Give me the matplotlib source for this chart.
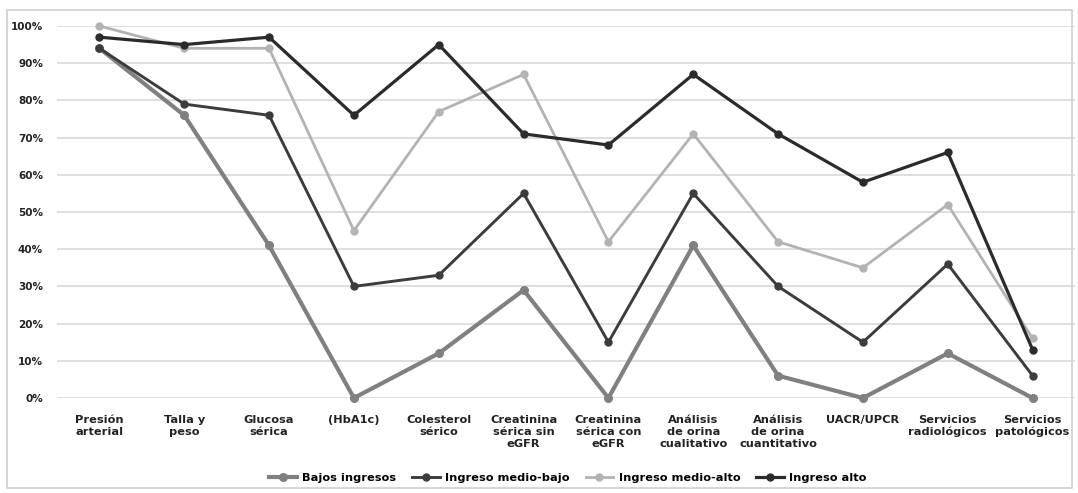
import numpy as np
import matplotlib.pyplot as plt
from matplotlib.patches import Rectangle

categories = ["Presión\narterial", "Talla y\npeso", "Glucosa\nsérica", "(HbA1c)",
              "Colesterol\nsérico", "Creatinina\nsérica sin\neGFR", "Creatinina\nsérica con\neGFR",
              "Análisis\nde orina\ncualitativo", "Análisis\nde orina\ncuantitativo", "UACR/UPCR",
              "Servicios\nradiológicos", "Servicios\npatológicos"]

bajos = [94, 76, 41, 0, 12, 29, 0, 41, 6, 0, 12, 0]
medio_bajo = [94, 79, 76, 30, 33, 55, 15, 55, 30, 15, 36, 6]
medio_alto = [100, 94, 94, 45, 77, 87, 42, 71, 42, 35, 52, 16]
alto = [97, 95, 97, 76, 95, 71, 68, 87, 71, 58, 66, 13]

labels = ["Bajos ingresos", "Ingreso medio-bajo", "Ingreso medio-alto", "Ingreso alto"]

fig = plt.figure(figsize=(10.78, 4.93), dpi=100)
ax = fig.add_axes([57/1078, 95/493, 1018/1078, 372/493])

x = np.arange(len(categories))
# light series first, dark ones on top
ax.plot(x, medio_alto, color='#b3b3b3', lw=2.0, marker='o', ms=5, label=labels[2], clip_on=False, zorder=3)
ax.plot(x, bajos, color='#808080', lw=3.0, marker='o', ms=5.5, label=labels[0], clip_on=False, zorder=4)
ax.plot(x, medio_bajo, color='#3c3c3c', lw=2.1, marker='o', ms=5, label=labels[1], clip_on=False, zorder=5)
ax.plot(x, alto, color='#2b2b2b', lw=2.3, marker='o', ms=5, label=labels[3], clip_on=False, zorder=6)

ax.set_xlim(-0.5, 11.5)
ax.set_ylim(0, 100)
ax.set_yticks(np.arange(0, 101, 10))
ax.set_yticklabels([f"{v}%" for v in range(0, 101, 10)], fontsize=7.5, fontweight='bold', color='#222222')
ax.set_xticks(x)
ax.set_xticklabels(categories, fontsize=8.2, fontweight='bold', color='#222222', linespacing=1.25)
ax.tick_params(length=0, axis='y', pad=10)
ax.tick_params(length=0, axis='x', pad=12)
ax.grid(axis='y', color='#d9d9d9', lw=1.2)
ax.set_axisbelow(True)
for s in ax.spines.values():
    s.set_visible(False)

handles, labs = ax.get_legend_handles_labels()
order = [labs.index(l) for l in labels]
fig.legend([handles[i] for i in order], [labs[i] for i in order], loc='center', ncol=4,
           bbox_to_anchor=(0.527, 0.03), frameon=False, prop={'size': 8.2, 'weight': 'bold'},
           handlelength=2.4, handletextpad=0.5, columnspacing=1.4)

fig.patches.append(Rectangle((7/1078, 5/493), 1065/1078, 478/493, transform=fig.transFigure,
                             fill=False, edgecolor='#d0d0d0', lw=1.2))

fig.savefig("out.png", dpi=100, facecolor='white')
